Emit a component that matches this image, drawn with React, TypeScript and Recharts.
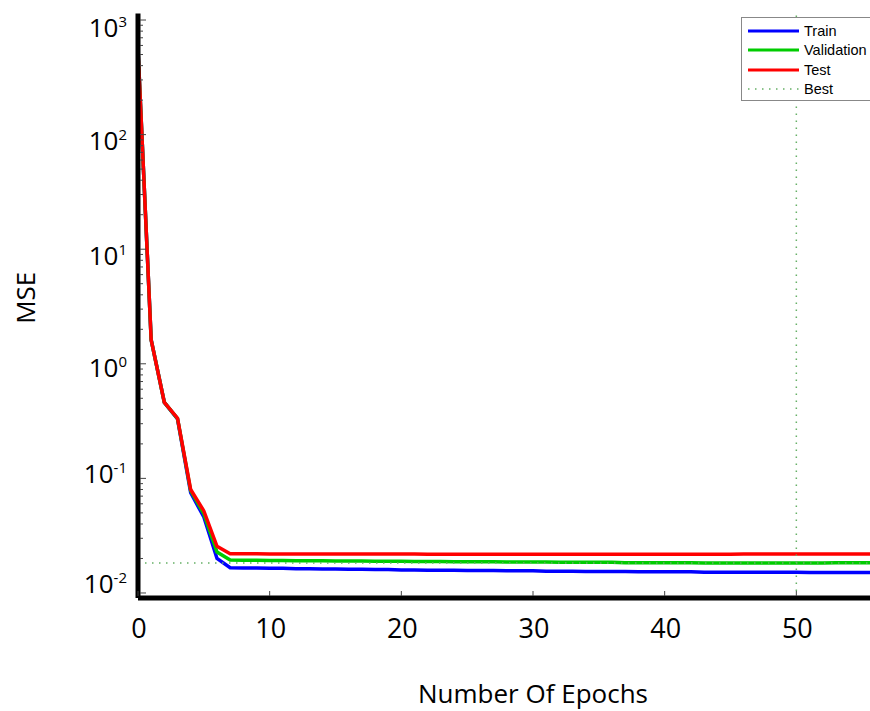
import React from 'react';
import { LineChart, Line, XAxis, YAxis, ReferenceLine } from 'recharts';

const epochs = Array.from({ length: 61 }, (_, i) => i);

const train = [
  560, 1.62, 0.46, 0.33, 0.075, 0.046, 0.02, 0.0166, 0.0165, 0.0165,
  0.0164, 0.0164, 0.0163, 0.0163, 0.0162, 0.0162, 0.0161, 0.0161, 0.016, 0.016,
  0.0159, 0.0159, 0.0158, 0.0158, 0.0158, 0.0157, 0.0157, 0.0157, 0.0156, 0.0156,
  0.0156, 0.0155, 0.0155, 0.0155, 0.0154, 0.0154, 0.0154, 0.0154, 0.0153, 0.0153,
  0.0153, 0.0153, 0.0153, 0.0152, 0.0152, 0.0152, 0.0152, 0.0152, 0.0152, 0.0152,
  0.0152, 0.0151, 0.0151, 0.0151, 0.0151, 0.0151, 0.0151, 0.0151, 0.015, 0.015,
  0.015,
];

const validation = [
  560, 1.62, 0.46, 0.333, 0.078, 0.049, 0.0228, 0.0194, 0.0193, 0.0193,
  0.0192, 0.0192, 0.0191, 0.0191, 0.0191, 0.019, 0.019, 0.019, 0.0189, 0.0189,
  0.0189, 0.0188, 0.0188, 0.0188, 0.0187, 0.0187, 0.0187, 0.0187, 0.0186, 0.0186,
  0.0186, 0.0186, 0.0185, 0.0185, 0.0185, 0.0185, 0.0185, 0.0184, 0.0184, 0.0184,
  0.0184, 0.0184, 0.0184, 0.0183, 0.0183, 0.0183, 0.0183, 0.0183, 0.0183, 0.0183,
  0.0183, 0.0183, 0.0183, 0.0184, 0.0184, 0.0184, 0.0184, 0.0184, 0.0184, 0.0184,
  0.0184,
];

const test = [
  560, 1.62, 0.46, 0.335, 0.08, 0.052, 0.0255, 0.022, 0.022, 0.022,
  0.0219, 0.0219, 0.0219, 0.0219, 0.0219, 0.0219, 0.0219, 0.0219, 0.0219, 0.0219,
  0.0219, 0.0219, 0.0218, 0.0218, 0.0218, 0.0218, 0.0218, 0.0218, 0.0218, 0.0218,
  0.0218, 0.0218, 0.0218, 0.0218, 0.0218, 0.0218, 0.0218, 0.0218, 0.0218, 0.0218,
  0.0218, 0.0218, 0.0218, 0.0218, 0.0218, 0.0218, 0.0219, 0.0219, 0.0219, 0.0219,
  0.0219, 0.0219, 0.0219, 0.0219, 0.0219, 0.0219, 0.0219, 0.0219, 0.0219, 0.0219,
  0.0219,
];

const bestEpoch = 50;
const xTicks = [0, 10, 20, 30, 40, 50];
const decades = [-2, -1, 0, 1, 2, 3];
const minorSteps = [2, 3, 4, 5, 6, 7, 8, 9];
const yDomain = [0.00904, 1140];

const data = epochs.map((e, i) => ({
  epoch: e,
  train: train[i],
  validation: validation[i],
  test: test[i],
}));
const bestValue = validation[epochs.indexOf(bestEpoch)];

const yTicks: number[] = [];
decades.forEach((d) => {
  yTicks.push(Math.pow(10, d));
  minorSteps.forEach((m) => {
    const v = m * Math.pow(10, d);
    if (v <= yDomain[1]) yTicks.push(v);
  });
});

const FONT = '"Open Sans", Lato, sans-serif';
const BLUE = '#0000ff';
const GREEN = '#00cc00';
const RED = '#ff0000';
const BEST = '#66b066';

// label baselines in the original sit a bit off the tick, a little more near the top
const labelShift: Record<number, number> = { 3: 17, 2: 15, 1: 16, 0: 13, [-1]: 5, [-2]: 0 };

const YTick = (props: any) => {
  const { x, y, payload } = props;
  const lg = Math.log10(payload.value);
  const exp = Math.round(lg);
  const major = Math.abs(lg - exp) < 1e-6;
  return (
    <g>
      <line x1={x + 2} x2={x + (major ? 8 : 5)} y1={y} y2={y} stroke="#444" strokeWidth={1} />
      {major && (
        <text x={x - 11} y={y + labelShift[exp]} textAnchor="end" fontSize={26} fontFamily={FONT} fill="#000">
          10
          <tspan dy={-10} fontSize={15}>
            {exp}
          </tspan>
        </text>
      )}
    </g>
  );
};

const XTick = (props: any) => {
  const { x, y, payload } = props;
  return (
    <g>
      <line x1={x} x2={x} y1={y - 2} y2={y - 7} stroke="#444" strokeWidth={1} />
      <text x={x + 1} y={y + 40} textAnchor="middle" fontSize={27} fontFamily={FONT} fill="#000">
        {payload.value}
      </text>
    </g>
  );
};

const XTitle = (props: any) => {
  const { viewBox } = props;
  return (
    <text
      x={viewBox.x + viewBox.width / 2}
      y={viewBox.y + 105}
      textAnchor="middle"
      fontSize={26}
      fontFamily={FONT}
      fill="#000"
    >
      Number Of Epochs
    </text>
  );
};

const YTitle = (props: any) => {
  const { viewBox } = props;
  const cx = 25;
  const cy = viewBox.y + viewBox.height / 2 - 8;
  return (
    <text
      x={cx}
      y={cy}
      transform={`rotate(-90, ${cx}, ${cy})`}
      textAnchor="middle"
      dominantBaseline="central"
      fontSize={26}
      fontFamily={FONT}
      fill="#000"
    >
      MSE
    </text>
  );
};

const legendItems = [
  { name: 'Train', color: BLUE, dotted: false },
  { name: 'Validation', color: GREEN, dotted: false },
  { name: 'Test', color: RED, dotted: false },
  { name: 'Best', color: BEST, dotted: true },
];

const LegendBox = () => (
  <div
    style={{
      position: 'absolute',
      left: 741,
      top: 17,
      width: 180,
      height: 84,
      background: '#fff',
      border: '1px solid #888',
      fontFamily: '"Liberation Sans", Arial, sans-serif',
      fontSize: 14.5,
      boxSizing: 'border-box',
      paddingTop: 3,
    }}
  >
    {legendItems.map((it) => (
      <div key={it.name} style={{ display: 'flex', alignItems: 'center', height: 19.5 }}>
        <svg width={60} height={10} style={{ marginLeft: 6 }}>
          <line
            x1={0}
            x2={51}
            y1={5}
            y2={5}
            stroke={it.color}
            strokeWidth={it.dotted ? 1.5 : 3}
            strokeDasharray={it.dotted ? '1.5 5.5' : undefined}
          />
        </svg>
        <span style={{ marginLeft: -4 }}>{it.name}</span>
      </div>
    ))}
  </div>
);

export default function App() {
  return (
    <div style={{ position: 'absolute', left: 0, top: 0, width: 870, height: 711, overflow: 'hidden', background: '#fff' }}>
      <LineChart width={950} height={711} data={data} margin={{ top: 13.5, right: 22, bottom: 0, left: 0 }}>
        <XAxis
          dataKey="epoch"
          type="number"
          domain={[0, 60]}
          ticks={xTicks}
          interval={0}
          tick={<XTick />}
          tickSize={0}
          tickMargin={0}
          tickLine={false}
          height={113}
          axisLine={{ stroke: '#000', strokeWidth: 5 }}
          label={<XTitle />}
        />
        <XAxis
          xAxisId="top"
          orientation="top"
          dataKey="epoch"
          type="number"
          domain={[0, 60]}
          tick={false}
          tickLine={false}
          height={0}
          axisLine={{ stroke: '#000', strokeWidth: 5 }}
        />
        <YAxis
          type="number"
          scale="log"
          domain={yDomain}
          allowDataOverflow
          ticks={yTicks}
          interval={0}
          tick={<YTick />}
          tickSize={0}
          tickMargin={0}
          tickLine={false}
          width={138}
          axisLine={{ stroke: '#000', strokeWidth: 5 }}
          label={<YTitle />}
        />
        <Line dataKey="train" stroke={BLUE} strokeWidth={3.5} dot={false} isAnimationActive={false} />
        <Line dataKey="validation" stroke={GREEN} strokeWidth={3.5} dot={false} isAnimationActive={false} />
        <Line dataKey="test" stroke={RED} strokeWidth={3.5} dot={false} isAnimationActive={false} />
        <ReferenceLine x={bestEpoch} stroke={BEST} strokeWidth={1.5} strokeDasharray="1.5 5.5" />
        <ReferenceLine y={bestValue} stroke={BEST} strokeWidth={1.5} strokeDasharray="1.5 5.5" />
      </LineChart>
      <LegendBox />
    </div>
  );
}
